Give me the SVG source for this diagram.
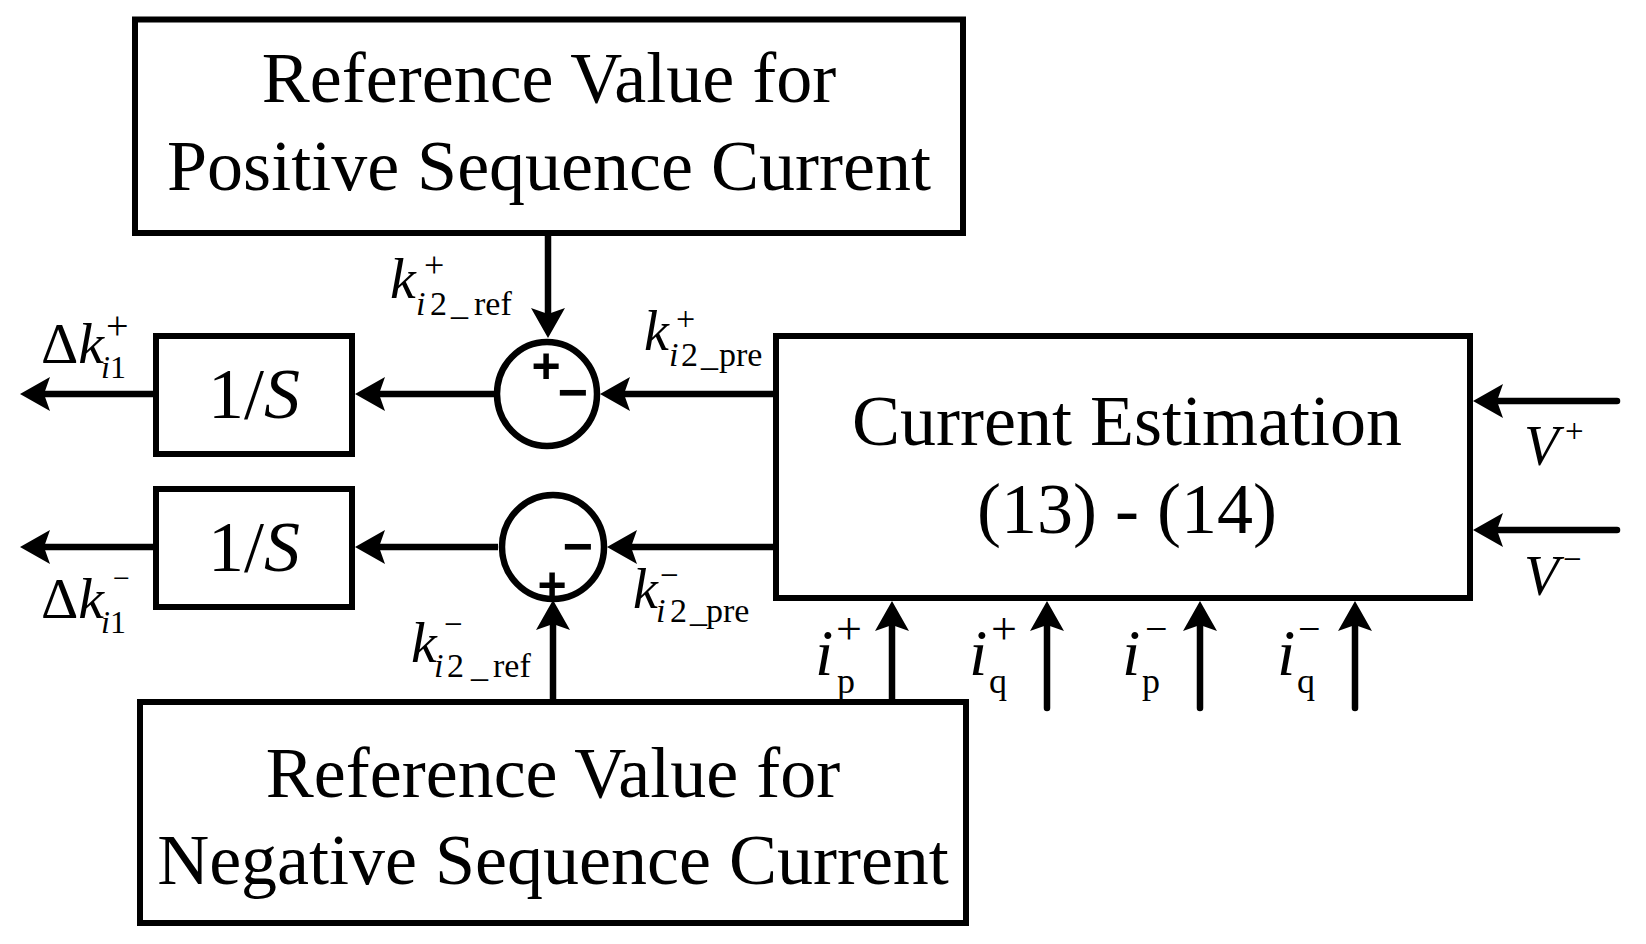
<svg xmlns="http://www.w3.org/2000/svg" width="1646" height="944" viewBox="0 0 1646 944">
<style>
.ln{stroke:#000;stroke-width:6.5;fill:none}
.rc{stroke-linecap:round}
.box{fill:#fff;stroke:#000;stroke-width:6}
.sum{fill:#fff;stroke:#000;stroke-width:6.5}
text{font-family:"Liberation Serif","Times New Roman",serif;fill:#000}
.big{font-size:72px}
.it{font-style:italic}
.sub{font-size:34px}
.sg{font-family:"Liberation Sans",Arial,sans-serif;font-weight:bold}
</style>
<defs>
<marker id="ah" markerUnits="userSpaceOnUse" markerWidth="32" markerHeight="36" refX="6" refY="17" orient="auto" overflow="visible">
<path d="M0,0 L30,17 L0,34 L6,17 Z" fill="#000"/>
</marker>
</defs>
<rect width="1646" height="944" fill="#fff"/>

<g id="connectors">
<path class="ln" d="M548,233 V314" marker-end="url(#ah)"/>
<path class="ln" d="M776,394 H624" marker-end="url(#ah)"/>
<path class="ln" d="M494,394 H379" marker-end="url(#ah)"/>
<path class="ln" d="M156,394 H44" marker-end="url(#ah)"/>
<path class="ln" d="M776,547 H631" marker-end="url(#ah)"/>
<path class="ln" d="M498,547 H379" marker-end="url(#ah)"/>
<path class="ln" d="M156,547 H44" marker-end="url(#ah)"/>
<path class="ln" d="M553,702 V624" marker-end="url(#ah)"/>
<path class="ln rc" d="M1617,401 H1497" marker-end="url(#ah)"/>
<path class="ln rc" d="M1617,530 H1497" marker-end="url(#ah)"/>
<path class="ln" d="M892,702 V625" marker-end="url(#ah)"/>
<path class="ln rc" d="M1047,708 V625" marker-end="url(#ah)"/>
<path class="ln rc" d="M1200,708 V625" marker-end="url(#ah)"/>
<path class="ln rc" d="M1355,708 V625" marker-end="url(#ah)"/>
</g>

<g id="ref-pos">
<rect class="box" x="135" y="19.5" width="828" height="213.5"/>
<text class="big" x="549" y="102" text-anchor="middle">Reference Value for</text>
<text class="big" x="549" y="190" text-anchor="middle">Positive Sequence Current</text>
</g>

<g id="ref-neg">
<rect class="box" x="140" y="702" width="826" height="221"/>
<text class="big" x="553" y="797" text-anchor="middle">Reference Value for</text>
<text class="big" x="553" y="884" text-anchor="middle">Negative Sequence Current</text>
</g>

<g id="current-estimation">
<rect class="box" x="776" y="336" width="694" height="262"/>
<text class="big" x="1127" y="445" text-anchor="middle">Current Estimation</text>
<text class="big" x="1127" y="533" text-anchor="middle">(13) - (14)</text>
</g>

<g id="int-pos">
<rect class="box" x="156" y="336" width="196" height="118"/>
<text class="big" x="254" y="418" text-anchor="middle">1/<tspan class="it">S</tspan></text>
</g>

<g id="int-neg">
<rect class="box" x="156" y="489" width="196" height="118"/>
<text class="big" x="254" y="571" text-anchor="middle">1/<tspan class="it">S</tspan></text>
</g>

<g id="sum-pos">
<ellipse class="sum" cx="547" cy="394" rx="50" ry="52"/>
<text class="sg" x="546" y="383" font-size="50" text-anchor="middle">+</text>
<text class="sg" x="573" y="410" font-size="52" text-anchor="middle">−</text>
</g>

<g id="sum-neg">
<ellipse class="sum" cx="553" cy="547" rx="51" ry="52"/>
<text class="sg" x="578" y="564" font-size="52" text-anchor="middle">−</text>
<text class="sg" x="552" y="602" font-size="50" text-anchor="middle">+</text>
</g>

<g id="labels">
<!-- Delta k i1 + -->
<text x="41" y="363" font-size="58">Δ<tspan class="it">k</tspan></text>
<text x="106" y="339" font-size="40">+</text>
<text x="101" y="378" font-size="32"><tspan class="it">i</tspan><tspan x="110">1</tspan></text>
<!-- Delta k i1 - -->
<text x="41" y="618" font-size="58">Δ<tspan class="it">k</tspan></text>
<text x="113" y="588" font-size="30">−</text>
<text x="101" y="633" font-size="32"><tspan class="it">i</tspan><tspan x="110">1</tspan></text>
<!-- k i2_ref + -->
<text class="it" x="390" y="298" font-size="58">k</text>
<text x="424" y="277" font-size="36">+</text>
<text class="sub" y="315"><tspan class="it" x="416">i</tspan><tspan x="430">2</tspan><tspan x="451">_</tspan><tspan x="474">ref</tspan></text>
<!-- k i2_pre + -->
<text class="it" x="644" y="350" font-size="56">k</text>
<text x="676" y="330" font-size="34">+</text>
<text class="sub" y="366"><tspan class="it" x="669">i</tspan><tspan x="681">2</tspan><tspan x="701">_</tspan><tspan x="719">pre</tspan></text>
<!-- k i2_ref - -->
<text class="it" x="411" y="662" font-size="58">k</text>
<text x="444" y="635" font-size="33">−</text>
<text class="sub" y="677"><tspan class="it" x="434">i</tspan><tspan x="447">2</tspan><tspan x="471">_</tspan><tspan x="493">ref</tspan></text>
<!-- k i2_pre - -->
<text class="it" x="633" y="608" font-size="56">k</text>
<text x="660" y="586" font-size="33">−</text>
<text class="sub" y="622"><tspan class="it" x="656">i</tspan><tspan x="670">2</tspan><tspan x="690">_</tspan><tspan x="706">pre</tspan></text>
<!-- V+ V- -->
<text class="it" x="1524" y="465" font-size="57">V</text>
<text x="1565" y="442" font-size="33">+</text>
<text class="it" x="1524" y="595" font-size="57">V</text>
<text x="1563" y="570" font-size="33">−</text>
<!-- i labels -->
<text class="it" x="815" y="675" font-size="66">i</text>
<text x="836" y="644" font-size="46">+</text>
<text x="837" y="693" font-size="36">p</text>
<text class="it" x="969" y="675" font-size="66">i</text>
<text x="991" y="644" font-size="46">+</text>
<text x="989" y="693" font-size="36">q</text>
<text class="it" x="1122" y="675" font-size="66">i</text>
<text x="1145" y="642" font-size="40">−</text>
<text x="1142" y="693" font-size="36">p</text>
<text class="it" x="1277" y="675" font-size="66">i</text>
<text x="1298" y="642" font-size="40">−</text>
<text x="1297" y="693" font-size="36">q</text>
</g>
</svg>
